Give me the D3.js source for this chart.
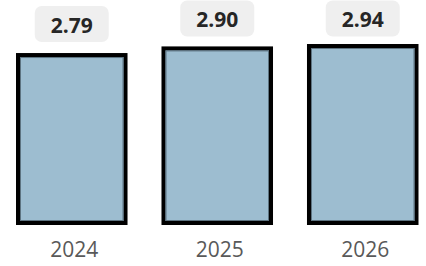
<!DOCTYPE html>
<html>
<head>
<meta charset="utf-8">
<script src="https://cdn.jsdelivr.net/npm/d3@7"></script>
<style>
  body { margin: 0; background: #fff; }
  svg { display: block; }
</style>
</head>
<body>
<div id="chart"></div>
<script>
// data
const years = ["2024", "2025", "2026"];
const values = [2.79, 2.90, 2.94];
const valueLabels = ["2.79", "2.90", "2.94"];

const width = 426, height = 266;

const svg = d3.select("#chart")
  .append("svg")
    .attr("width", width)
    .attr("height", height);

// scales
const x = d3.scaleBand()
    .domain(years)
    .range([18, 416.5])
    .paddingInner(0.261)
    .paddingOuter(0);

const y = d3.scaleLinear()
    .domain([0, 3])
    .range([223, 42.4]);

const data = years.map((d, i) => ({year: d, value: values[i], label: valueLabels[i]}));

// bars
const bars = svg.append("g")
  .selectAll("g")
  .data(data)
  .join("g");

bars.append("rect")
    .attr("x", d => x(d.year))
    .attr("y", d => y(d.value))
    .attr("width", x.bandwidth())
    .attr("height", d => y(0) - y(d.value))
    .attr("fill", "#9dbdd0")
    .attr("stroke", "#000")
    .attr("stroke-width", 4);

// thin inner edge
bars.append("rect")
    .attr("x", d => x(d.year) + 2.5)
    .attr("y", d => y(d.value) + 2.5)
    .attr("width", x.bandwidth() - 5)
    .attr("height", d => y(0) - y(d.value) - 5)
    .attr("fill", "none")
    .attr("stroke", "#5d7380")
    .attr("stroke-width", 1);

// value label boxes
const boxW = 74, boxH = 36;
const boxY = d => Math.max(0.5, y(d.value) - 2 - 11 - boxH);

bars.append("rect")
    .attr("x", d => x(d.year) + x.bandwidth() / 2 - boxW / 2)
    .attr("y", boxY)
    .attr("width", boxW)
    .attr("height", boxH)
    .attr("rx", 7)
    .attr("fill", "#efefef");

bars.append("text")
    .attr("x", d => x(d.year) + x.bandwidth() / 2)
    .attr("y", d => boxY(d) + 26.5)
    .attr("text-anchor", "middle")
    .style("font-family", "'Open Sans', sans-serif")
    .style("font-weight", "bold")
    .style("font-size", "21px")
    .attr("fill", "#262626")
    .text(d => d.label);

// x axis labels
svg.append("g")
  .selectAll("text")
  .data(years)
  .join("text")
    .attr("x", d => x(d) + x.bandwidth() / 2 + 2.5)
    .attr("y", 257)
    .attr("text-anchor", "middle")
    .style("font-family", "'Open Sans', sans-serif")
    .style("font-size", "21px")
    .attr("fill", "#595959")
    .text(d => d);
</script>
</body>
</html>
